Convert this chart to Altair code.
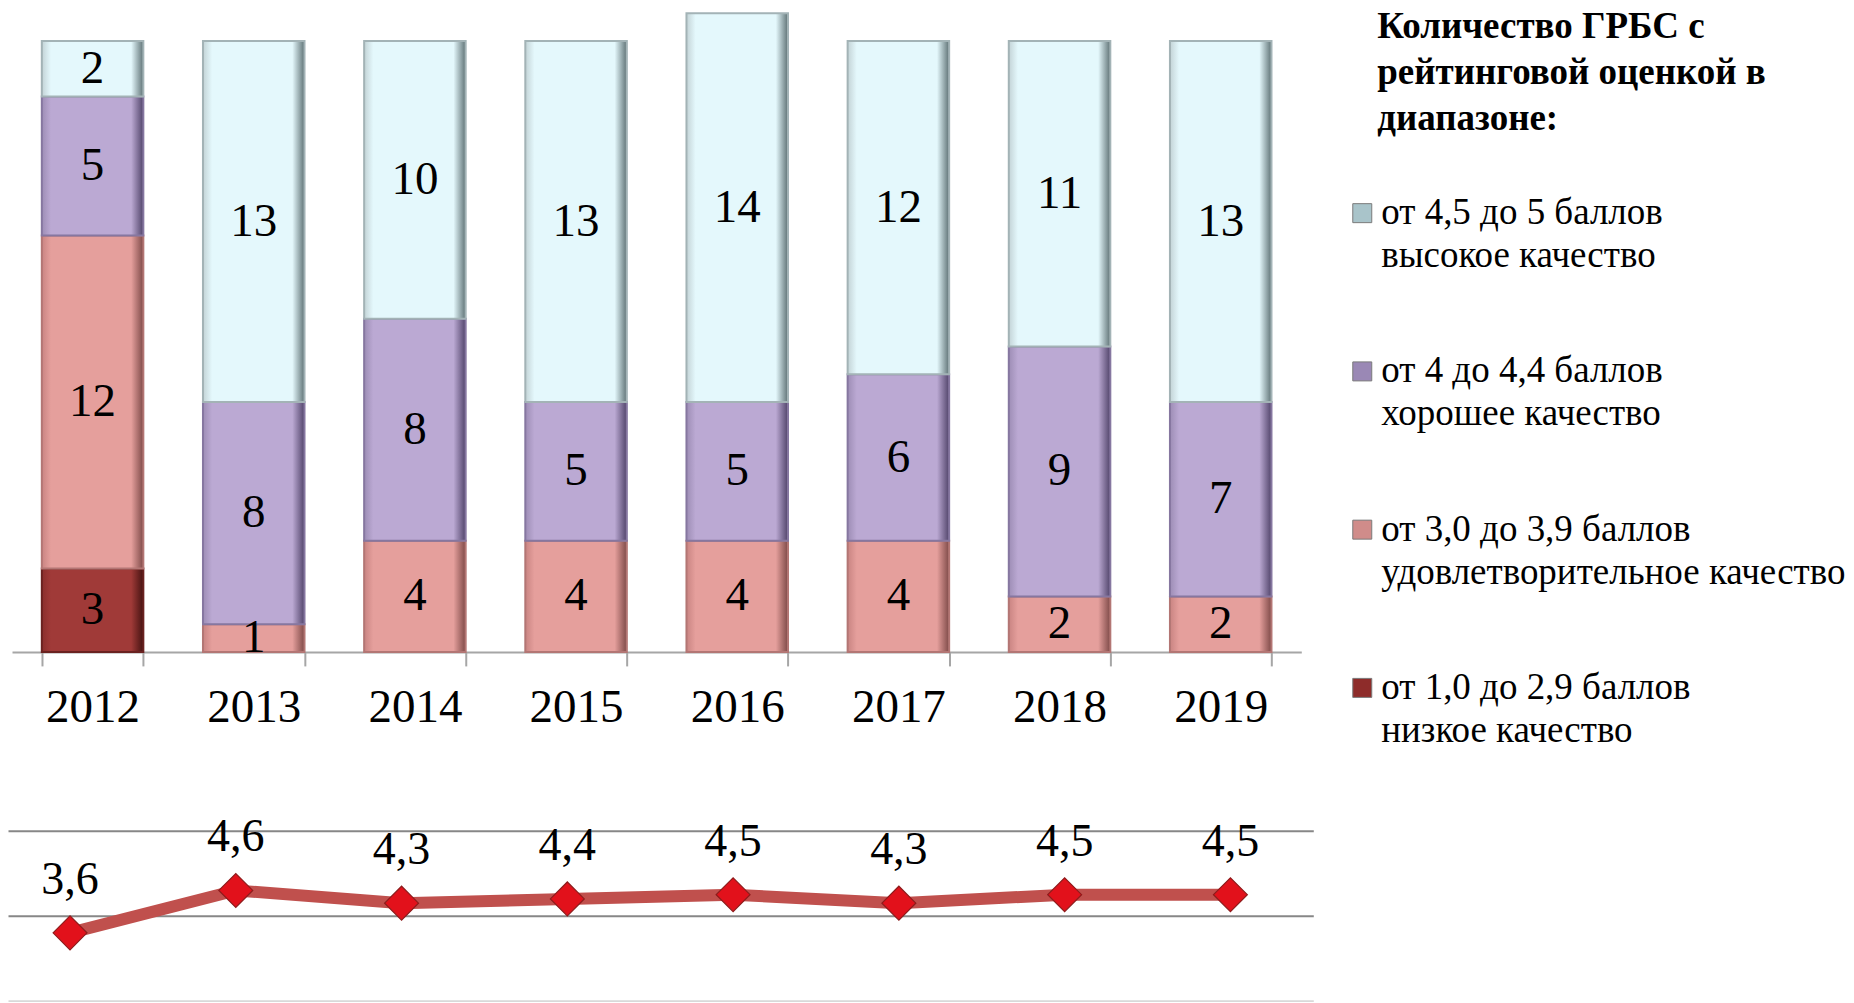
import altair as alt
import pandas as pd

# ---------------- data ----------------
years = ["2012", "2013", "2014", "2015", "2016", "2017", "2018", "2019"]
low_q = [3, 0, 0, 0, 0, 0, 0, 0]            # от 1,0 до 2,9 баллов
satisf_q = [12, 1, 4, 4, 4, 4, 2, 2]        # от 3,0 до 3,9 баллов
good_q = [5, 8, 8, 5, 5, 6, 9, 7]           # от 4 до 4,4 баллов
high_q = [2, 13, 10, 13, 14, 12, 11, 13]    # от 4,5 до 5 баллов
avg_score = [3.6, 4.6, 4.3, 4.4, 4.5, 4.3, 4.5, 4.5]

cat_keys = ["low", "sat", "good", "high"]   # bottom -> top
cat_values = {"low": low_q, "sat": satisf_q, "good": good_q, "high": high_q}
cat_labels = {
    "high": "от 4,5 до 5 баллов\nвысокое качество",
    "good": "от 4 до 4,4 баллов\nхорошее качество",
    "sat": "от 3,0 до 3,9 баллов\nудовлетворительное качество",
    "low": "от 1,0 до 2,9 баллов\nнизкое качество",
}
legend_title = "Количество ГРБС с\nрейтинговой оценкой в\nдиапазоне:"

# styles
FONT = "Liberation Serif"
face = {"high": "#E4F8FC", "good": "#BBA9D3", "sat": "#E59F9C", "low": "#A03A38"}
edge_l = {"high": "#C3D3D6", "good": "#9D8DB5", "sat": "#C98482", "low": "#8A2E2C"}
edge_r = {"high": "#5F7275", "good": "#51446A", "sat": "#7E4A48", "low": "#451211"}
stroke_c = {"high": "#A3B3B6", "good": "#8677A0", "sat": "#B37674", "low": "#6A2220"}
sym_c = {"high": "#A9C4CA", "good": "#9A88B5", "sat": "#D08C8A", "low": "#8E2C2A"}

rows = []
for i, k in enumerate(cat_keys):
    for y, v in zip(years, cat_values[k]):
        rows.append({"year": y, "cat": k, "order": i, "count": v})
bar_df = pd.DataFrame(rows)

# ---------------- bar chart ----------------
x_bar = alt.X(
    "year:N",
    scale=alt.Scale(domain=years, range=[4, 1294], paddingInner=0.37, paddingOuter=0.185),
    axis=alt.Axis(
        title=None, labelAngle=0, labelFont=FONT, labelFontSize=47, labelColor="#000000",
        labelPadding=19, tickBand="extent", tickSize=14, tickWidth=2, tickColor="#A6A6A6",
        domainColor="#A6A6A6", domainWidth=2, grid=False,
    ),
)
y_scale = alt.Scale(domain=[0, 23.18], nice=False, zero=True)

base = (
    alt.Chart(bar_df)
    .transform_filter("datum.count > 0")
    .transform_stack(
        stack="count", groupby=["year"], as_=["y0", "y1"],
        sort=[alt.SortField("order", "ascending")],
    )
)

layers = []
for k in cat_keys:
    grad = alt.Gradient(
        gradient="linear", x1=0, x2=1, y1=0, y2=0,
        stops=[
            alt.GradientStop(offset=0, color=edge_l[k]),
            alt.GradientStop(offset=0.09, color=face[k]),
            alt.GradientStop(offset=0.88, color=face[k]),
            alt.GradientStop(offset=1, color=edge_r[k]),
        ],
    )
    layers.append(
        base.transform_filter(alt.datum.cat == k)
        .mark_bar(color=grad, stroke=stroke_c[k], strokeWidth=2)
        .encode(x=x_bar, y=alt.Y("y0:Q", scale=y_scale, axis=None), y2="y1:Q")
    )

bar_text = (
    base.transform_calculate(mid="(datum.y0 + datum.y1) / 2")
    .mark_text(font=FONT, fontSize=47, color="#000000", baseline="middle")
    .encode(x=x_bar, y=alt.Y("mid:Q", scale=y_scale, axis=None), text="count:Q")
)

bar_chart = alt.layer(*layers, bar_text).properties(width=1306, height=644)

# ---------------- line chart ----------------
line_df = pd.DataFrame({"year": years, "score": avg_score})
lbase = alt.Chart(line_df).encode(
    x=alt.X(
        "year:N",
        scale=alt.Scale(type="point", domain=years, padding=0.437, align=0.428),
        axis=alt.Axis(title=None, labels=False, ticks=False, grid=False,
                      domainColor="#D9D9D9", domainWidth=2),
    ),
    y=alt.Y(
        "score:Q",
        scale=alt.Scale(domain=[2, 6.5], nice=False, zero=False),
        axis=alt.Axis(title=None, values=[4, 6], grid=True, gridColor="#878787",
                      gridWidth=2, labels=False, ticks=False, domain=False),
    ),
)
line = lbase.mark_line(color="#C0504D", strokeWidth=12)
pts = lbase.mark_point(
    shape="diamond", filled=True, size=1150, fill="#E2111B", stroke="#8E1B1B",
    strokeWidth=1.2, opacity=1,
)
lbl = (
    lbase.transform_calculate(lbl="replace(format(datum.score, '.1f'), '.', ',')")
    .mark_text(font=FONT, fontSize=46, color="#000000", baseline="middle", dy=-53)
    .encode(text="lbl:N")
)
line_chart = alt.layer(line, pts, lbl).properties(width=1306, height=191)

# ---------------- legend ----------------
leg_keys = ["high", "good", "sat", "low"]
leg_df = pd.DataFrame({"key": leg_keys, "label": [cat_labels[k] for k in leg_keys]})
ly = alt.Y("key:N", scale=alt.Scale(type="point", domain=leg_keys, range=[205, 680], padding=0), axis=None)

sym = alt.Chart(leg_df).mark_square(
    size=361, opacity=1, stroke="#7A7A7A", strokeWidth=1
).encode(
    y=ly, x=alt.value(27),
    color=alt.Color("key:N", scale=alt.Scale(domain=leg_keys, range=[sym_c[k] for k in leg_keys]), legend=None),
)
txt = alt.Chart(leg_df).mark_text(
    align="left", baseline="middle", lineBreak="\n", lineHeight=43,
    font=FONT, fontSize=37, color="#000000",
).encode(y=ly, x=alt.value(46), text="label:N")

ttl = alt.Chart(pd.DataFrame({"t": [legend_title]})).mark_text(
    align="left", baseline="middle", lineBreak="\n", lineHeight=46,
    font=FONT, fontSize=37, fontWeight="bold", color="#000000",
).encode(x=alt.value(42), y=alt.value(19), text="t:N")

legend_chart = alt.layer(sym, txt, ttl).properties(width=510, height=994)

left = alt.vconcat(bar_chart, line_chart, spacing=79)
chart = (
    alt.hconcat(left, legend_chart, spacing=22)
    .properties(padding=0, background="#FFFFFF")
    .configure_view(stroke=None)
)

chart.save("out.html", embed_options={"renderer": "svg", "actions": False})
